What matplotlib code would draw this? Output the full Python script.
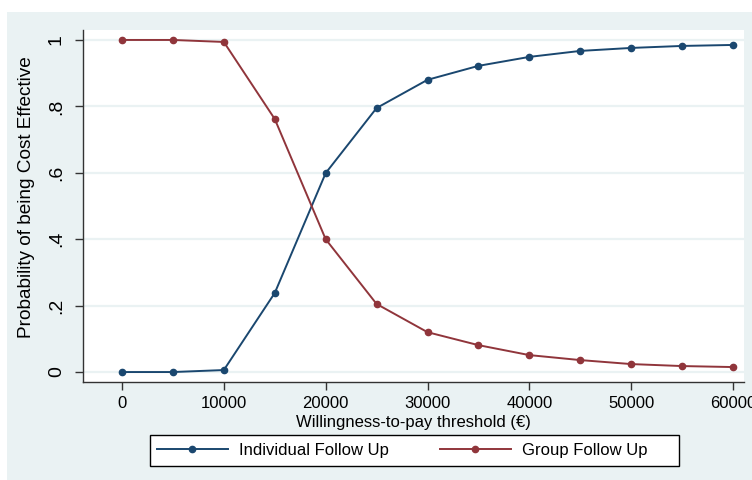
import numpy as np
import matplotlib.pyplot as plt
from matplotlib.patches import Rectangle

# data
wtp = [0, 5000, 10000, 15000, 20000, 25000, 30000, 35000, 40000, 45000, 50000, 55000, 60000]
individual = [0.0, 0.0, 0.006, 0.238, 0.599, 0.795, 0.880, 0.922, 0.949, 0.967, 0.976, 0.982, 0.985]
group = [1.0, 1.0, 0.994, 0.762, 0.400, 0.205, 0.120, 0.081, 0.051, 0.036, 0.024, 0.018, 0.015]
xticks = [0, 10000, 20000, 30000, 40000, 50000, 60000]
yticks = [0, 0.2, 0.4, 0.6, 0.8, 1.0]
ytick_labels = ['0', '.2', '.4', '.6', '.8', '1']

navy = '#1A476F'
maroon = '#90353B'
bg = '#EAF2F3'
fs = 12

plt.rcParams['font.family'] = ['Liberation Sans', 'DejaVu Sans']

W, H = 752, 480
fig = plt.figure(figsize=(W / 100, H / 100), dpi=100, facecolor='white')

# outer light background of the graph region
fig.patches.append(Rectangle((7 / W, 0), 1, (H - 12) / H, transform=fig.transFigure,
                             facecolor=bg, edgecolor='none', zorder=-5))

ax = fig.add_axes([83 / W, (H - 382) / H, (744 - 83) / W, (382 - 30) / H])
ax.set_facecolor('white')

ax.plot(wtp, individual, color=navy, lw=1.4, marker='o', ms=4.5, label='Individual Follow Up')
ax.plot(wtp, group, color=maroon, lw=1.4, marker='o', ms=4.5, label='Group Follow Up')

ax.set_xlim(-3830, 61080)
ax.set_ylim(-0.030, 1.030)
ax.set_xticks(xticks)
ax.set_xticklabels([str(t) for t in xticks], fontsize=fs)
ax.set_yticks(yticks)
ax.set_yticklabels(ytick_labels, fontsize=14, rotation=90, va='center')

for spine in ['top', 'right']:
    ax.spines[spine].set_visible(False)
for spine in ['left', 'bottom']:
    ax.spines[spine].set_color('#333333')
    ax.spines[spine].set_linewidth(1.0)
ax.tick_params(direction='out', length=6, width=1.0, color='#333333', pad=4)
ax.tick_params(axis='y', pad=7)

ax.yaxis.grid(True, color=bg, lw=1.6)
ax.set_axisbelow(True)

ax.set_xlabel('Willingness-to-pay threshold (€)', fontsize=fs, labelpad=3)
ax.set_ylabel('Probability of being Cost Effective', fontsize=13.7, labelpad=9.5)
ax.yaxis.label.set_y(0.524)

# legend box (Stata style: fixed width, white fill, black frame)
fig.patches.append(Rectangle((150 / W, (H - 466) / H), (679 - 150) / W, 31 / H,
                             transform=fig.transFigure, facecolor='white',
                             edgecolor='black', lw=1.0, zorder=-4))
leg = fig.legend(loc='center left', bbox_to_anchor=(150 / W, (H - 450.5) / H), ncol=2,
                 fontsize=fs, frameon=False,
                 handlelength=4.27, handletextpad=0.66, columnspacing=3.06,
                 borderpad=0.4, borderaxespad=0)

fig.savefig('out.png', dpi=100, facecolor=fig.get_facecolor())
